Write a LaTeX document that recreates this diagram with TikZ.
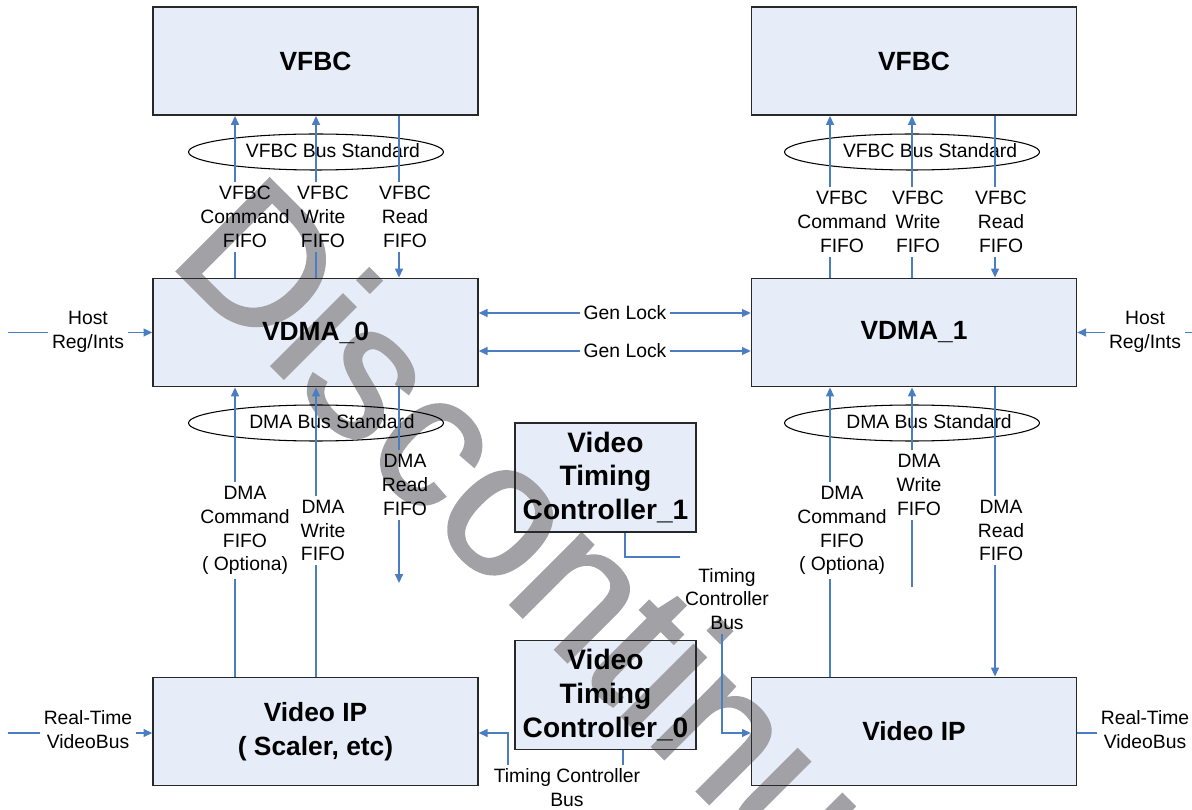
\documentclass[tikz,border=0pt]{standalone}
\usepackage{fontspec}
\setmainfont{Liberation Sans}
\newfontfamily\wmfont[FakeBold=1.5]{Liberation Sans}
\usetikzlibrary{arrows.meta,shapes.geometric}
\pgfdeclarelayer{bg}
\pgfdeclarelayer{wm}
\pgfsetlayers{bg,wm,main}
\definecolor{boxfill}{RGB}{230,237,248}
\definecolor{lineblue}{RGB}{74,126,193}
\definecolor{wmgray}{RGB}{162,162,166}
\definecolor{bordergray}{RGB}{40,40,40}
\begin{document}
\begin{tikzpicture}[x=0.02cm,y=-0.02cm,
  blk/.style={draw=bordergray,line width=0.85pt,align=center,font=\fontsize{15}{19.5}\selectfont\bfseries,inner sep=0pt},
  wide/.style={blk,minimum width=6.5cm,minimum height=2.17cm},
  vtc/.style={blk,minimum width=3.62cm,minimum height=2.18cm,font=\fontsize{16}{19.3}\selectfont\bfseries},
  lbl/.style={align=center,font=\fontsize{11}{13.6}\selectfont,inner sep=2pt},
  busell/.style={ellipse,draw=black,line width=0.6pt,minimum width=5.1cm,minimum height=0.72cm,inner sep=0pt},
  conn/.style={draw=lineblue,line width=0.7pt},
  arr/.style={conn,-{Triangle[length=5pt,width=4.5pt]}},
  wmtext/.style={text=wmgray,font=\wmfont\fontsize{108}{108}\selectfont,inner sep=0pt}
]
\useasboundingbox (0,0) rectangle (1192,810);

% blocks
\node[wide] (vfbcL) at (315.5,61) {VFBC};
\node[wide] (vfbcR) at (914,61) {VFBC};
\node[wide] (vdma0) at (315.5,332.5) {VDMA\_0};
\node[wide] (vdma1) at (914,332.5) {VDMA\_1};
\node[wide] (vipL) at (315.5,731.5) {Video IP\\( Scaler, etc)};
\node[wide] (vipR) at (914,731.5) {Video IP};
\node[vtc] (vtc1) at (605.5,477.5) {Video\\Timing\\Controller\_1};
\node[vtc] (vtc0) at (605.5,695) {Video\\Timing\\Controller\_0};

\begin{pgfonlayer}{bg}
\foreach \n in {vfbcL,vfbcR,vdma0,vdma1,vipL,vipR,vtc1,vtc0}
  \fill[boxfill] (\n.south west) rectangle (\n.north east);
\end{pgfonlayer}

% watermark
\begin{pgfonlayer}{wm}
\node[wmtext,rotate=-45,anchor=base west] (wmark) at (166,260) {Discontinued};
\end{pgfonlayer}

% column coordinates
\coordinate (xa) at (235,0);
\coordinate (xb) at (316,0);
\coordinate (xc) at (399,0);
\coordinate (xd) at (830,0);
\coordinate (xe) at (912,0);
\coordinate (xf) at (995,0);

% bus ellipses
\node[busell] (ebusVL) at (316,152) {};
\node[busell] (ebusVR) at (912,152) {};
\node[busell] (ebusDL) at (316,423) {};
\node[busell] (ebusDR) at (912,423) {};
\node[lbl] (tbusVL) at (333,151) {VFBC Bus Standard};
\node[lbl] (tbusVR) at (930,151) {VFBC Bus Standard};
\node[lbl] (tbusDL) at (332,422) {DMA Bus Standard};
\node[lbl] (tbusDR) at (929,422) {DMA Bus Standard};

% VFBC fifo labels
\node[lbl] (vcL) at (245,217) {VFBC\\Command\\FIFO};
\node[lbl] (vwL) at (323,217) {VFBC\\Write\\FIFO};
\node[lbl] (vrL) at (405,217) {VFBC\\Read\\FIFO};
\node[lbl] (vcR) at (842,222) {VFBC\\Command\\FIFO};
\node[lbl] (vwR) at (918,222) {VFBC\\Write\\FIFO};
\node[lbl] (vrR) at (1001,222) {VFBC\\Read\\FIFO};

% DMA fifo labels
\node[lbl] (dcL) at (245,530.5) {DMA\\Command\\FIFO\\( Optiona)};
\node[lbl] (dwL) at (323,530.5) {DMA\\Write\\FIFO};
\node[lbl] (drL) at (405,485) {DMA\\Read\\FIFO};
\node[lbl] (dcR) at (842,530.5) {DMA\\Command\\FIFO\\( Optiona)};
\node[lbl] (dwR) at (919,485) {DMA\\Write\\FIFO};
\node[lbl] (drR) at (1001,530.5) {DMA\\Read\\FIFO};

% VFBC connectors left
\draw[conn] (vdma0.north -| xa) -- (vcL.south -| xa);
\draw[arr] (vcL.north -| xa) -- (vfbcL.south -| xa);
\draw[conn] (vdma0.north -| xb) -- (vwL.south -| xb);
\draw[arr] (vwL.north -| xb) -- (vfbcL.south -| xb);
\draw[conn] (vfbcL.south -| xc) -- (vrL.north -| xc);
\draw[arr] (vrL.south -| xc) -- (vdma0.north -| xc);
% VFBC connectors right
\draw[conn] (vdma1.north -| xd) -- (vcR.south -| xd);
\draw[arr] (vcR.north -| xd) -- (vfbcR.south -| xd);
\draw[conn] (vdma1.north -| xe) -- (vwR.south -| xe);
\draw[arr] (vwR.north -| xe) -- (vfbcR.south -| xe);
\draw[conn] (vfbcR.south -| xf) -- (vrR.north -| xf);
\draw[arr] (vrR.south -| xf) -- (vdma1.north -| xf);

% DMA connectors left
\coordinate (drLend) at (399,583);
\draw[conn] (vipL.north -| xa) -- (dcL.south -| xa);
\draw[arr] (dcL.north -| xa) -- (vdma0.south -| xa);
\draw[conn] (vipL.north -| xb) -- (dwL.south -| xb);
\draw[arr] (dwL.north -| xb) -- (vdma0.south -| xb);
\draw[conn] (vdma0.south -| xc) -- (drL.north -| xc);
\draw[arr] (drL.south -| xc) -- (drLend);
% DMA connectors right
\coordinate (dwRstart) at (912,587);
\draw[conn] (vipR.north -| xd) -- (dcR.south -| xd);
\draw[arr] (dcR.north -| xd) -- (vdma1.south -| xd);
\draw[conn] (dwRstart) -- (dwR.south -| xe);
\draw[arr] (dwR.north -| xe) -- (vdma1.south -| xe);
\draw[conn] (vdma1.south -| xf) -- (drR.north -| xf);
\draw[arr] (drR.south -| xf) -- (vipR.north -| xf);

% Gen Lock
\node[lbl] (gl1) at (625,313) {Gen Lock};
\node[lbl] (gl2) at (625,351) {Gen Lock};
\draw[arr] (gl1.west) -- (gl1.west -| vdma0.east);
\draw[arr] (gl1.east) -- (gl1.east -| vdma1.west);
\draw[arr] (gl2.west) -- (gl2.west -| vdma0.east);
\draw[arr] (gl2.east) -- (gl2.east -| vdma1.west);

% Host Reg/Ints
\node[lbl] (hostL) at (88,331.5) {Host\\Reg/Ints};
\node[lbl] (hostR) at (1145,331.5) {Host\\Reg/Ints};
\coordinate (hostLin) at (8,332.5);
\coordinate (hostRin) at (1192,332.5);
\draw[conn] (hostLin) -- (hostLin -| hostL.west);
\draw[arr] (hostL.east |- hostLin) -- (hostLin -| vdma0.west);
\draw[conn] (hostRin) -- (hostRin -| hostR.east);
\draw[arr] (hostR.west |- hostRin) -- (hostRin -| vdma1.east);

% Real-Time VideoBus
\node[lbl] (rtL) at (88,729.5) {Real-Time\\VideoBus};
\node[lbl] (rtR) at (1145,729.5) {Real-Time\\VideoBus};
\coordinate (rtLin) at (8,733);
\coordinate (rtRout) at (1193,733);
\draw[conn] (rtLin) -- (rtLin -| rtL.west);
\draw[arr] (rtL.east |- rtLin) -- (rtLin -| vipL.west);
\draw[conn] (rtLin -| vipR.east) -- (rtLin -| rtR.west);
\draw[arr] (rtR.east |- rtLin) -- (rtRout);

% Timing controller buses
\node[lbl] (tcb1) at (727,599) {Timing\\Controller\\Bus};
\node[lbl] (tcb0) at (567,787.5) {Timing Controller\\Bus};
\coordinate (xg) at (625,0);
\coordinate (xh) at (722,0);
\coordinate (tcb1end) at (680,557);
\coordinate (xi) at (623,0);
\coordinate (xj) at (508,0);
\draw[conn] (vtc1.south -| xg) |- (tcb1end);
\draw[arr] (tcb1.south -| xh) |- (rtLin -| vipR.west);
\draw[conn] (vtc0.south -| xi) -- (tcb0.north -| xi);
\draw[arr] (tcb0.north -| xj) |- (rtLin -| vipL.east);
\end{tikzpicture}
\end{document}
